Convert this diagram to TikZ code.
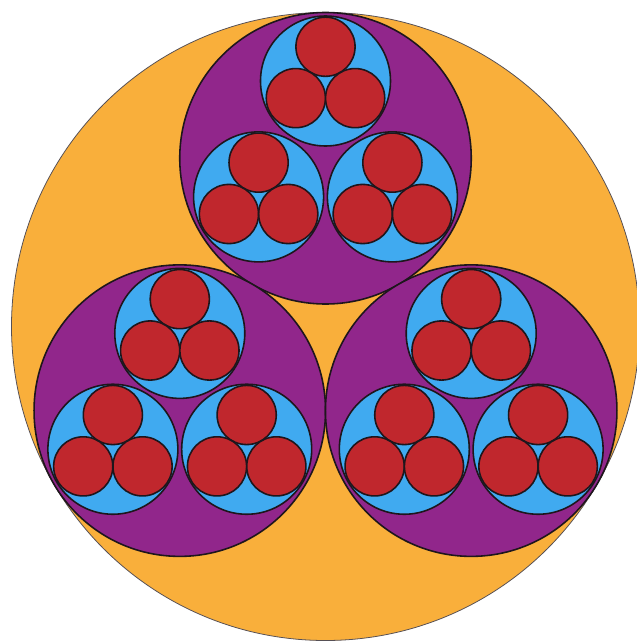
\documentclass[tikz,border=0pt]{standalone}
\usepackage{tikz}
\usetikzlibrary{calc}
\definecolor{discorange}{RGB}{249,175,59}
\definecolor{discpurple}{RGB}{145,38,139}
\definecolor{discblue}{RGB}{64,170,240}
\definecolor{discred}{RGB}{192,39,45}
\definecolor{outline}{RGB}{30,22,28}

\begin{document}
\begin{tikzpicture}[
  outerdisc/.style={fill=discorange,draw=outline!75,line width=0.45pt},
  disc/.style={draw=outline,line width=0.9pt}]
\useasboundingbox (-6.51,-6.31) rectangle (6.21,6.53);
% big disc
\draw[outerdisc] (0,0) circle (6.28);
% three levels, three discs each
\foreach \a in {90,210,330}{
  \draw[disc,fill=discpurple] (\a:3.365) circle (2.915);
  \foreach \b in {90,210,330}{
    \draw[disc,fill=discblue] ($(\a:3.365)+(\b:1.545)$) circle (1.300);
    \foreach \c in {90,210,330}
      \draw[disc,fill=discred] ($(\a:3.365)+(\b:1.545)+(\c:0.685)$)
        circle (0.5915);
  }
}
\end{tikzpicture}
\end{document}
